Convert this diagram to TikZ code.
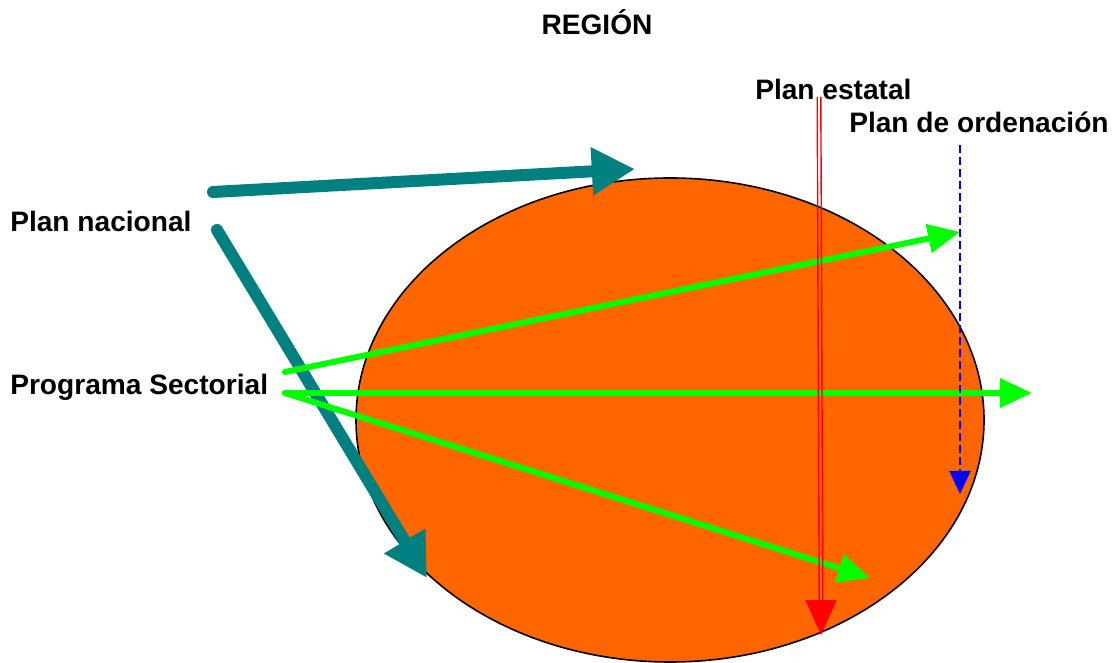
\documentclass[tikz,border=0pt]{standalone}
\usepackage{fontspec}
\setmainfont{Liberation Sans}
\usepackage{tikz}
\usetikzlibrary{arrows.meta,positioning,shapes}
\definecolor{tealarr}{RGB}{0,128,128}
\definecolor{regionfill}{RGB}{255,102,0}
\definecolor{greenarr}{RGB}{0,255,0}
\tikzstyle{lbl} = [inner sep=0pt,font=\fontsize{20}{24}\selectfont\bfseries]
\tikzstyle{nacional} = [tealarr,line width=0.3cm,line cap=round,-{Triangle[length=1.08cm,width=1.13cm]}]
\tikzstyle{sectorial} = [greenarr,line width=0.15cm,line cap=round,-{Triangle[length=0.8cm,width=0.7cm]}]
\tikzstyle{estatal} = [red,line width=0.035cm]
\tikzstyle{ordenacion} = [blue,line width=0.05cm,dash pattern=on 0.2cm off 0.1cm,-{Triangle[length=0.58cm,width=0.53cm]}]
\tikzset{>=latex}

\begin{document}
\begin{tikzpicture}
    \useasboundingbox (0,0) rectangle (27.95,16.575);
    \draw [fill=regionfill,line width=0.04cm] (16.75,6.075) ellipse [x radius=7.85,y radius=6.05];

    \node [lbl,anchor=base] (region) at (14.925,15.7) {REGIÓN};
    \node [lbl,anchor=base west] (pest) at (18.875,14.075) {Plan estatal};
    \node [lbl,anchor=base west] (pord) at (21.225,13.25) {Plan de ordenación};
    \node [lbl,anchor=base west] (pnac) at (0.25,10.775) {Plan nacional};
    \node [lbl,anchor=base west] (psec) at (0.25,6.7) {Programa Sectorial};

    \coordinate (nac1) at (5.325,11.775);
    \coordinate (nac2) at (5.425,10.825);
    \coordinate (sec1) at (7.125,7.275);
    \coordinate (sec2) at (7.125,6.75);
    \coordinate (est1) at (20.475,14.15);
    \coordinate (est2) at (20.525,0.7);
    \coordinate (ord1) at (24,12.95);
    \coordinate (ord2) at (24,4.225);

    \draw [nacional] (nac1) -- (15.875,12.35);
    \draw [nacional] (nac2) -- (10.675,2.125);

    \draw [sectorial] (sec1) -- (24,10.775);
    \draw [sectorial] (sec2) -- (25.8,6.75);
    \draw [sectorial] (sec2) -- (21.75,2.125);

    \draw [estatal] ([xshift=-0.045cm]est1) -- ([xshift=-0.045cm,yshift=0.8cm]est2);
    \draw [estatal] ([xshift=0.045cm]est1) -- ([xshift=0.045cm,yshift=0.8cm]est2);
    \draw [red,-{Triangle[length=0.87cm,width=0.78cm]}] ([yshift=0.85cm]est2) -- (est2);

    \draw [ordenacion] (ord1) -- (ord2);
\end{tikzpicture}
\end{document}
